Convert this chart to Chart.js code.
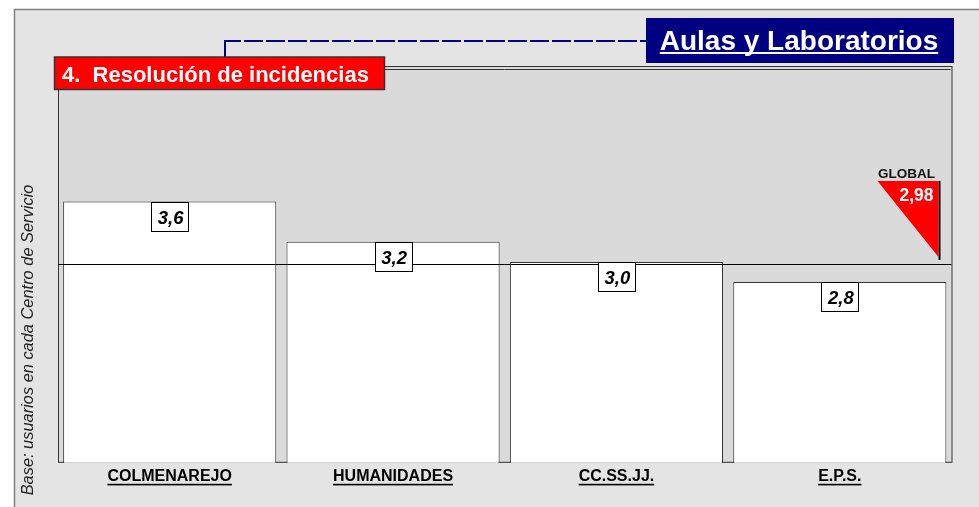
<!DOCTYPE html>
<html>
<head>
<meta charset="utf-8">
<script src="https://cdn.jsdelivr.net/npm/chart.js@4/dist/chart.umd.min.js"></script>
<style>
  html, body { margin: 0; padding: 0; background: #fff; }
  #wrap { width: 979px; height: 507px; position: relative; }
</style>
</head>
<body>
<div id="wrap"><canvas id="chart"></canvas></div>
<script>
// data
const centros = ['COLMENAREJO', 'HUMANIDADES', 'CC.SS.JJ.', 'E.P.S.'];
const valores = [3.6, 3.2, 3.0, 2.8];
const globalValor = 2.98;
const tituloSeccion = '4.  Resolución de incidencias';
const tituloServicio = 'Aulas y Laboratorios';
const tituloEje = 'Base: usuarios en cada Centro de Servicio';

const FONT = "'Liberation Sans', Arial, sans-serif";
const fmt = v => v.toFixed(1).replace('.', ',');
const fmt2 = v => v.toFixed(2).replace('.', ',');

// frame + grey plot wall behind the bars
const fondo = {
  id: 'fondo',
  beforeDraw(chart) {
    const ctx = chart.ctx, a = chart.chartArea;
    ctx.save();
    ctx.fillStyle = '#fff';
    ctx.fillRect(0, 0, chart.width, chart.height);
    ctx.fillStyle = '#e4e4e4';
    ctx.fillRect(14.5, 9.5, chart.width, chart.height);
    ctx.strokeStyle = '#808080';
    ctx.lineWidth = 1.5;
    ctx.beginPath();
    ctx.moveTo(14.5, chart.height);
    ctx.lineTo(14.5, 9.5);
    ctx.lineTo(chart.width, 9.5);
    ctx.stroke();
    ctx.fillStyle = '#dadada';
    ctx.fillRect(a.left, a.top - 3, a.right - a.left, a.bottom - a.top + 3);
    ctx.strokeStyle = '#333';
    ctx.lineWidth = 1;
    ctx.strokeRect(a.left + 0.5, a.top - 2.5, a.right - a.left, a.bottom - a.top + 2);
    ctx.beginPath();
    ctx.moveTo(a.left, a.top + 0.5);
    ctx.lineTo(a.right - 1, a.top + 0.5);
    ctx.stroke();
    ctx.restore();
  }
};

// global line, value boxes, GLOBAL marker
const marcas = {
  id: 'marcas',
  afterDatasetsDraw(chart) {
    const ctx = chart.ctx, a = chart.chartArea;
    const y = chart.scales.y.getPixelForValue(globalValor);
    ctx.save();
    ctx.strokeStyle = '#000';
    ctx.lineWidth = 1;
    ctx.beginPath();
    ctx.moveTo(a.left, Math.round(y) + 0.5);
    ctx.lineTo(a.right, Math.round(y) + 0.5);
    ctx.stroke();

    const meta = chart.getDatasetMeta(0);
    meta.data.forEach((bar, i) => {
      const w = 37, h = 29;
      const x0 = Math.round(bar.x - w / 2) + 0.5, y0 = Math.round(bar.y) + 0.5;
      ctx.fillStyle = '#fff';
      ctx.fillRect(x0, y0, w, h);
      ctx.strokeStyle = '#000';
      ctx.strokeRect(x0, y0, w, h);
      ctx.fillStyle = '#000';
      ctx.font = 'italic bold 18.5px ' + FONT;
      ctx.textAlign = 'center';
      ctx.textBaseline = 'alphabetic';
      ctx.fillText(fmt(valores[i]), bar.x + 1, y0 + 21);
    });

    // red triangle
    const rx = a.right - 13, bottom = y - 7, top = y - 83;
    ctx.fillStyle = '#000';
    ctx.fillRect(rx, top, 2, bottom - top + 3);
    ctx.fillStyle = '#ff0000';
    ctx.beginPath();
    ctx.moveTo(rx - 61, top);
    ctx.lineTo(rx, top);
    ctx.lineTo(rx, bottom);
    ctx.closePath();
    ctx.fill();
    ctx.fillStyle = '#fff';
    ctx.font = 'bold 17.5px ' + FONT;
    ctx.textAlign = 'right';
    ctx.fillText(fmt2(globalValor), rx - 5, top + 20.5);
    ctx.fillStyle = '#111';
    ctx.font = 'bold 13.5px ' + FONT;
    ctx.textAlign = 'center';
    ctx.fillText('GLOBAL', rx - 32, top - 3);
    ctx.restore();
  }
};

// titles, axis title and underlines of the category labels
const textos = {
  id: 'textos',
  afterDraw(chart) {
    const ctx = chart.ctx;
    ctx.save();
    // connector
    ctx.strokeStyle = '#000080';
    ctx.lineWidth = 2;
    ctx.beginPath();
    ctx.moveTo(225, 57);
    ctx.lineTo(225, 41);
    ctx.lineTo(241, 41);
    ctx.stroke();
    ctx.setLineDash([19, 3]);
    ctx.beginPath();
    ctx.moveTo(244, 41);
    ctx.lineTo(646, 41);
    ctx.stroke();
    ctx.setLineDash([]);

    // red section title
    ctx.fillStyle = '#ff0000';
    ctx.fillRect(54.5, 57, 330, 32.5);
    ctx.strokeStyle = '#333';
    ctx.lineWidth = 1.5;
    ctx.strokeRect(54.5, 57, 330, 32.5);
    ctx.fillStyle = '#fff';
    ctx.font = 'bold 22px ' + FONT;
    ctx.textAlign = 'left';
    ctx.textBaseline = 'alphabetic';
    ctx.fillText(tituloSeccion, 62, 81.5);

    // blue service title
    ctx.fillStyle = '#000080';
    ctx.fillRect(646, 18, 308, 45);
    ctx.fillStyle = '#fff';
    ctx.font = 'bold 28px ' + FONT;
    ctx.textAlign = 'center';
    ctx.fillText(tituloServicio, 799, 50);
    const tw = ctx.measureText(tituloServicio).width;
    ctx.fillRect(799 - tw / 2, 52, tw, 2);

    // rotated axis title
    ctx.fillStyle = '#222';
    ctx.font = 'italic 16.4px ' + FONT;
    ctx.translate(33, 340);
    ctx.rotate(-Math.PI / 2);
    ctx.textAlign = 'center';
    ctx.fillText(tituloEje, 0, 0);
    ctx.setTransform(1, 0, 0, 1, 0, 0);

    // underline x labels
    const xs = chart.scales.x;
    ctx.font = 'bold 16px ' + FONT;
    ctx.fillStyle = '#000';
    centros.forEach((c, i) => {
      const x = xs.getPixelForValue(i);
      const w = ctx.measureText(c).width;
      ctx.fillRect(x - w / 2, xs.top + 21, w, 1.6);
    });
    ctx.restore();
  }
};

new Chart(document.getElementById('chart'), {
  type: 'bar',
  data: {
    labels: centros,
    datasets: [{
      data: valores,
      backgroundColor: '#ffffff',
      borderColor: '#333333',
      borderWidth: 1,
      barPercentage: 0.954,
      categoryPercentage: 1
    }]
  },
  options: {
    responsive: true,
    maintainAspectRatio: false,
    animation: false,
    devicePixelRatio: 1,
    layout: { padding: { left: 58, top: 69, right: 27.5, bottom: 17 } },
    plugins: {
      legend: { display: false },
      tooltip: { enabled: false }
    },
    scales: {
      x: {
        grid: { display: false, drawTicks: false },
        border: { display: false },
        ticks: {
          color: '#000',
          padding: 4,
          font: { family: FONT, size: 16, weight: 'bold' }
        }
      },
      y: {
        display: false,
        min: 1,
        max: 4.92
      }
    }
  },
  plugins: [fondo, marcas, textos]
});
</script>
</body>
</html>
